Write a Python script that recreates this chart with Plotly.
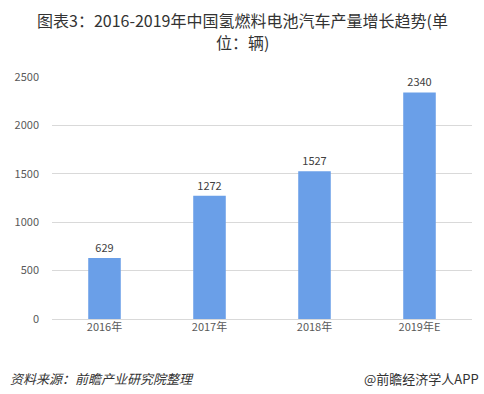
import plotly.graph_objects as go

categories = ["2016年", "2017年", "2018年", "2019年E"]
values = [629, 1272, 1527, 2340]
y_ticks = [0, 500, 1000, 1500, 2000, 2500]

font_family = "Noto Sans CJK SC, Microsoft YaHei, sans-serif"

W, H = 484, 394
L, R, T = 52, 12, 77
PH = 242
B = H - T - PH


def py(y_px):
    """convert page pixel y into paper coordinate"""
    return (H - B - y_px) / PH


def px(x_px):
    return (x_px - L) / (W - L - R)


fig = go.Figure()
fig.add_trace(go.Bar(
    x=categories, y=values,
    marker=dict(color="#6A9FE8", line=dict(width=0)),
    width=0.31,
    text=[str(v) for v in values],
    textposition="outside",
    textfont=dict(size=11, color="#404040", family=font_family),
    cliponaxis=False,
))

fig.update_layout(
    width=W, height=H,
    margin=dict(l=L, r=R, t=T, b=B),
    paper_bgcolor="white", plot_bgcolor="white",
    showlegend=False,
    font=dict(family=font_family),
    xaxis=dict(
        showgrid=False, showline=False, ticks="",
        tickfont=dict(size=11, color="#595959"),
    ),
    yaxis=dict(
        range=[0, 2500], tickvals=y_ticks,
        showgrid=True, gridcolor="#D9D9D9", gridwidth=1,
        zeroline=True, zerolinecolor="#D9D9D9", zerolinewidth=1,
        showline=False, ticks="",
        tickfont=dict(size=11, color="#595959"),
        ticklabelstandoff=12,
    ),
    annotations=[
        dict(text="图表3：2016-2019年中国氢燃料电池汽车产量增长趋势(单",
             x=px(242), y=py(20), xref="paper", yref="paper",
             xanchor="center", yanchor="middle", showarrow=False,
             font=dict(size=16, color="#333333", family=font_family)),
        dict(text="位：辆)",
             x=px(242), y=py(42), xref="paper", yref="paper",
             xanchor="center", yanchor="middle", showarrow=False,
             font=dict(size=16, color="#333333", family=font_family)),
        dict(text="<i>资料来源：前瞻产业研究院整理</i>", x=px(8), y=py(378),
             xref="paper", yref="paper", xanchor="left", yanchor="middle",
             showarrow=False, font=dict(size=13, color="#333333", family=font_family)),
        dict(text="@前瞻经济学人APP", x=px(481), y=py(378),
             xref="paper", yref="paper", xanchor="right", yanchor="middle",
             showarrow=False, font=dict(size=13, color="#333333", family=font_family)),
    ],
)

fig.write_html(
    "out.html",
    config={"displayModeBar": False},
    post_script="document.body.style.margin='0';document.body.style.overflow='hidden';",
)
